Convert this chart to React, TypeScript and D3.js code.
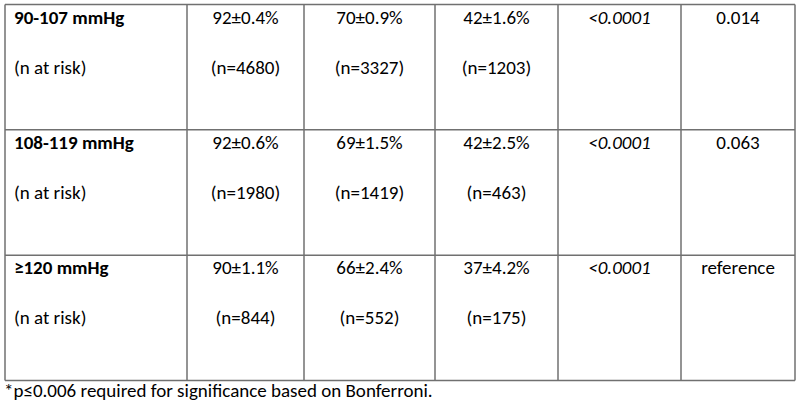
import React from "react";
import * as d3 from "d3";

// table content
const groups = ["90-107 mmHg", "108-119 mmHg", "≥120 mmHg"];
const survival1 = ["92±0.4%", "92±0.6%", "90±1.1%"];
const survival2 = ["70±0.9%", "69±1.5%", "66±2.4%"];
const survival3 = ["42±1.6%", "42±2.5%", "37±4.2%"];
const atRisk1 = [4680, 1980, 844];
const atRisk2 = [3327, 1419, 552];
const atRisk3 = [1203, 463, 175];
const pTrend = ["<0.0001", "<0.0001", "<0.0001"];
const pVsRef = ["0.014", "0.063", "reference"];
const footnote = "*p≤0.006 required for significance based on Bonferroni.";

const W = 800;
const H = 408;
const colEdges = [5, 187, 304, 435, 558, 681, 795];
const top = 4.5;
const bottom = 380.5;
const font = "Carlito, Calibri, Lato, sans-serif";

export default function App() {
  const y = d3.scaleBand<number>()
    .domain(d3.range(groups.length))
    .range([top, bottom]);
  const cx = (i: number) => (colEdges[i] + colEdges[i + 1]) / 2;
  const fs = 19;

  const rows = groups.map((g, i) => {
    const y0 = y(i)!;
    const l1 = y0 + 19;
    const l2 = y0 + 69;
    const cells = [
      [survival1[i], `(n=${atRisk1[i]})`],
      [survival2[i], `(n=${atRisk2[i]})`],
      [survival3[i], `(n=${atRisk3[i]})`],
    ];
    return (
      <g key={g}>
        <text x={colEdges[0] + 9} y={l1} fontWeight="bold">{g}</text>
        <text x={colEdges[0] + 9} y={l2}>(n at risk)</text>
        {cells.map((c, j) => (
          <g key={j}>
            <text x={cx(j + 1)} y={l1} textAnchor="middle">{c[0]}</text>
            <text x={cx(j + 1)} y={l2} textAnchor="middle">{c[1]}</text>
          </g>
        ))}
        <text x={cx(4)} y={l1} textAnchor="middle" fontStyle="italic">{pTrend[i]}</text>
        <text x={cx(5)} y={l1} textAnchor="middle">{pVsRef[i]}</text>
      </g>
    );
  });

  const hLines = d3.range(groups.length + 1).map((i) =>
    i < groups.length ? y(i)! : bottom
  );

  return (
    <svg width={W} height={H} style={{ position: "absolute", left: 0, top: 0, background: "#fff" }}
      fontFamily={font} fontSize={fs} fill="#000">
      <rect width={W} height={H} fill="#fff" />
      <g stroke="#707070" strokeWidth={1.5}>
        {hLines.map((yy, i) => (
          <line key={"h" + i} x1={colEdges[0]} x2={colEdges[colEdges.length - 1]} y1={yy} y2={yy} />
        ))}
        {colEdges.map((xx, i) => (
          <line key={"v" + i} x1={xx} x2={xx} y1={top} y2={bottom} />
        ))}
      </g>
      {rows}
      <text x={4} y={397}>{footnote}</text>
    </svg>
  );
}
